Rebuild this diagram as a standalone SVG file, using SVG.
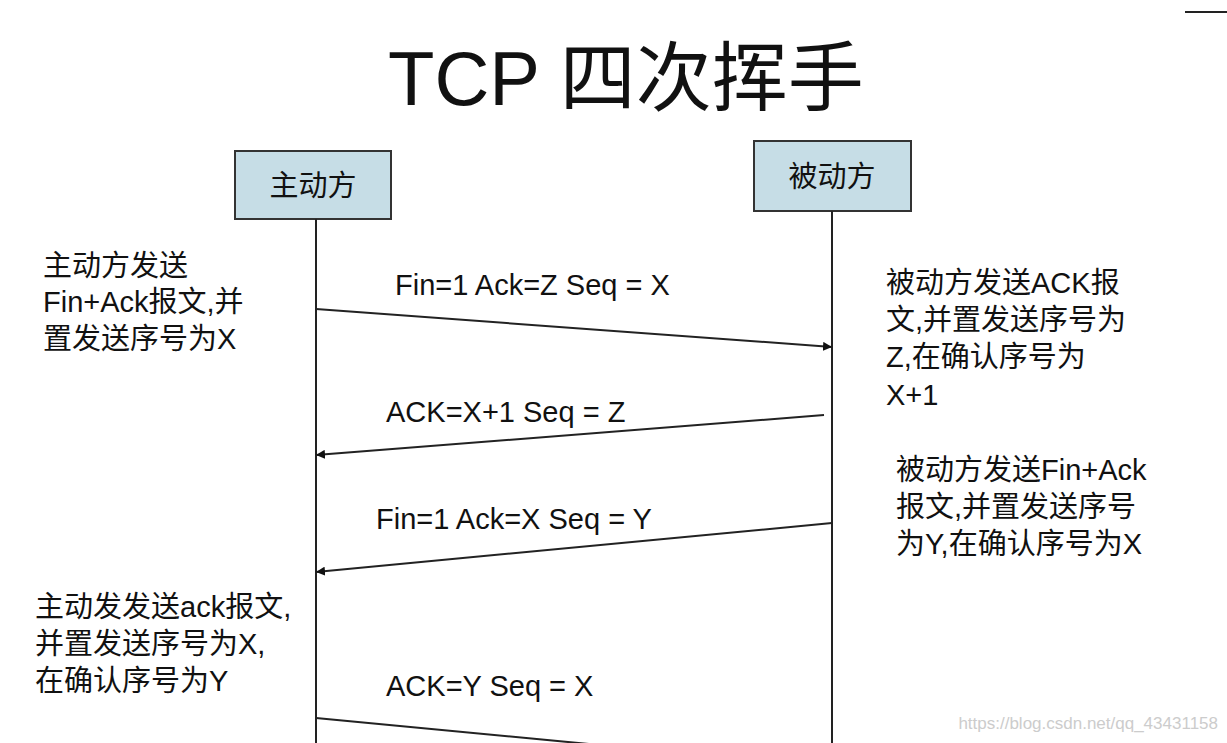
<svg xmlns="http://www.w3.org/2000/svg" width="1227" height="743" viewBox="0 0 1227 743">
<defs>
<marker id="ah" viewBox="0 0 10 10" refX="10" refY="5" markerWidth="9" markerHeight="9" orient="auto" markerUnits="userSpaceOnUse"><path d="M0,0 L10,5 L0,10 z" fill="#111"/></marker>
<style>
text{font-family:"Liberation Sans","Noto Sans CJK SC",sans-serif;fill:#111}
.t{font-size:29px}
.box{fill:#c6dde6;stroke:#333;stroke-width:2}
.ln{stroke:#222;stroke-width:2;fill:none}
</style>
</defs>
<rect width="1227" height="743" fill="#fff"/>
<line x1="1185" y1="12" x2="1227" y2="12" class="ln"/>
<text x="388" y="105" font-size="76">TCP 四次挥手</text>
<g id="active"><rect class="box" x="235" y="151" width="156" height="68"/><text class="t" x="313" y="196" text-anchor="middle">主动方</text><line class="ln" x1="316" y1="219" x2="316" y2="743"/></g>
<g id="passive"><rect class="box" x="754" y="141" width="157" height="70"/><text class="t" x="832" y="187" text-anchor="middle">被动方</text><line class="ln" x1="832" y1="211" x2="832" y2="743"/></g>
<g id="connectors">
<line class="ln" x1="316" y1="309" x2="832" y2="347" marker-end="url(#ah)"/>
<line class="ln" x1="824" y1="415" x2="316" y2="455" marker-end="url(#ah)"/>
<line class="ln" x1="832" y1="523" x2="316" y2="572" marker-end="url(#ah)"/>
<line class="ln" x1="316" y1="718" x2="610" y2="746"/>
</g>
<g id="labels">
<text class="t" x="395" y="295">Fin=1 Ack=Z Seq = X</text>
<text class="t" x="386" y="422">ACK=X+1 Seq = Z</text>
<text class="t" x="376" y="529">Fin=1 Ack=X Seq = Y</text>
<text class="t" x="386" y="696">ACK=Y Seq = X</text>
<text class="t" x="43" y="276">主动方发送</text>
<text class="t" x="43" y="312">Fin+Ack报文,并</text>
<text class="t" x="43" y="349">置发送序号为X</text>
<text class="t" x="886" y="293">被动方发送ACK报</text>
<text class="t" x="886" y="330">文,并置发送序号为</text>
<text class="t" x="886" y="367">Z,在确认序号为</text>
<text class="t" x="886" y="405">X+1</text>
<text class="t" x="896" y="480">被动方发送Fin+Ack</text>
<text class="t" x="896" y="517">报文,并置发送序号</text>
<text class="t" x="896" y="554">为Y,在确认序号为X</text>
<text class="t" x="35" y="617">主动发发送ack报文,</text>
<text class="t" x="35" y="654">并置发送序号为X,</text>
<text class="t" x="35" y="691">在确认序号为Y</text>
</g>
<text x="1218" y="729" font-size="17" text-anchor="end" style="fill:#ccc">https://blog.csdn.net/qq_43431158</text>
</svg>
